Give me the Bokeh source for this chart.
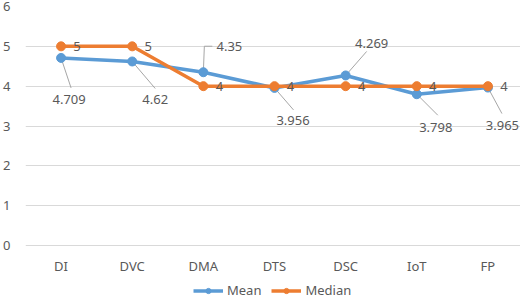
from bokeh.plotting import figure
from bokeh.models import Legend, LegendItem, ColumnDataSource, FixedTicker, Range1d
from bokeh.embed import file_html
from bokeh.resources import INLINE

categories = ["DI", "DVC", "DMA", "DTS", "DSC", "IoT", "FP"]
mean_vals = [4.709, 4.62, 4.35, 3.956, 4.269, 3.798, 3.965]
median_vals = [5, 5, 4, 4, 4, 4, 4]
mean_labels = ["4.709", "4.62", "4.35", "3.956", "4.269", "3.798", "3.965"]
median_labels = ["5", "5", "4", "4", "4", "4", "4"]
y_ticks = [0, 1, 2, 3, 4, 5, 6]

# style: pixel offsets of mean data labels (dx right, dy down) and leader paths
label_dx = [8, 23, 26, 18.5, 26, 19, 14.5]
label_dy = [42, 38, -26, 32.6, -32, 33, 38]
leader_px = [
    [(0, 0), (10, 30)],
    [(0, 0), (23, 27)],
    [(0, 0), (1, -26), (9, -26)],
    [(0, 0), (19, 22)],
    [(0, 0), (21, -24)],
    [(0, 0), (21, 21)],
    [(0, 0), (14, 26)],
]

BLUE = "#5B9BD5"
ORANGE = "#ED7D31"
TXT = "#595959"
FONT = "Noto Sans"
FS = "13px"

FRAME_W = 498
PLOT_H = 239          # pixels from value 6 down to value 0
BELOW_H = 54          # pixels below value 0 (category labels + legend)
px_x = FRAME_W / 7.0
px_y = PLOT_H / 6.0
Y_LOW = -BELOW_H / px_y

xs = list(range(len(categories)))

p = figure(frame_width=FRAME_W, frame_height=PLOT_H + BELOW_H,
           output_backend="svg", toolbar_location=None,
           x_axis_location=None,
           x_range=Range1d(-0.5, 6.5), y_range=Range1d(Y_LOW, 6),
           min_border_left=21, min_border_right=1, min_border_top=6,
           min_border_bottom=0)
p.outline_line_color = None
p.background_fill_color = "white"
p.border_fill_color = "white"

p.xgrid.grid_line_color = None
p.ygrid.grid_line_color = "#D9D9D9"
p.ygrid.grid_line_width = 1
p.yaxis.ticker = FixedTicker(ticks=y_ticks)
ax = p.yaxis[0]
ax.axis_line_color = None
ax.major_tick_line_color = None
ax.minor_tick_line_color = None
ax.major_label_text_font = FONT
ax.major_label_text_font_size = FS
ax.major_label_text_color = TXT
ax.major_label_standoff = 9

# category labels under the zero line
cat_src = ColumnDataSource(dict(x=xs, y=[0] * len(xs), t=categories))
p.text("x", "y", text="t", source=cat_src, y_offset=20, text_align="center",
       text_baseline="middle", text_font_size=FS, text_color=TXT,
       text_font={"value": FONT})

# leader lines
lx, ly = [], []
for i, path in enumerate(leader_px):
    lx.append([xs[i] + dx / px_x for dx, dy in path])
    ly.append([mean_vals[i] - dy / px_y for dx, dy in path])
p.multi_line(lx, ly, line_color="#A6A6A6", line_width=1)

mean_line = p.line(xs, mean_vals, line_color=BLUE, line_width=3.5)
mean_pts = p.scatter(xs, mean_vals, size=9, fill_color=BLUE, line_color=BLUE)
med_line = p.line(xs, median_vals, line_color=ORANGE, line_width=3.5)
med_pts = p.scatter(xs, median_vals, size=9, fill_color=ORANGE, line_color=ORANGE)

lab_src = ColumnDataSource(dict(
    x=[xs[i] + label_dx[i] / px_x for i in xs],
    y=[mean_vals[i] - label_dy[i] / px_y for i in xs],
    t=mean_labels))
p.text("x", "y", text="t", source=lab_src, text_align="center",
       text_baseline="middle", text_font_size=FS, text_color=TXT,
       text_font={"value": FONT})

med_src = ColumnDataSource(dict(x=xs, y=median_vals, t=median_labels))
p.text("x", "y", text="t", source=med_src, x_offset=16, text_align="center",
       text_baseline="middle", text_font_size=FS, text_color=TXT,
       text_font={"value": FONT})

legend = Legend(items=[
    LegendItem(label="Mean", renderers=[mean_line, mean_pts]),
    LegendItem(label="Median", renderers=[med_line, med_pts]),
], orientation="horizontal", location=(168, 0))
legend.border_line_color = None
legend.background_fill_alpha = 0
legend.padding = 0
legend.margin = 0
legend.spacing = 10
legend.glyph_width = 30
legend.glyph_height = 13
legend.label_height = 13
legend.label_standoff = 4
legend.label_text_font = FONT
legend.label_text_font_size = FS
legend.label_text_color = TXT
p.add_layout(legend, "center")

open("out.html", "w").write(file_html(p, INLINE))
